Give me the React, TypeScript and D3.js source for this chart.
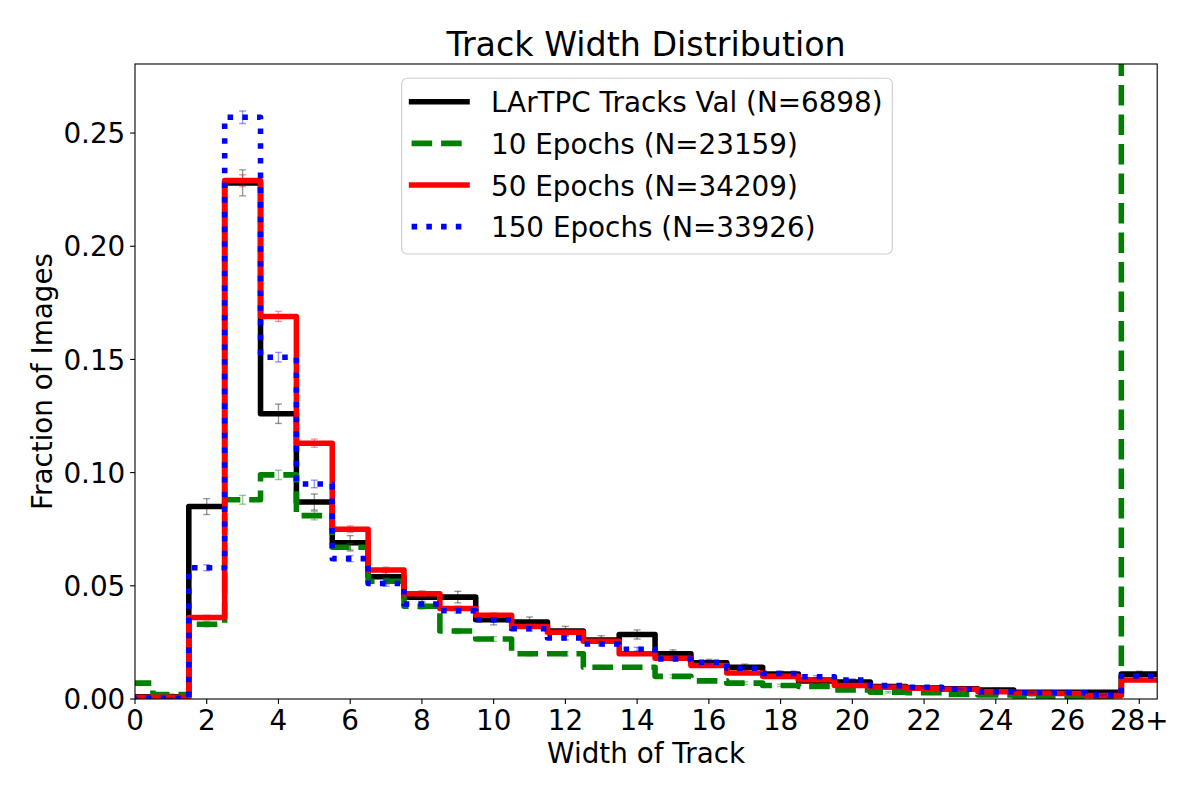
import * as d3 from "d3";

// histogram bins: widths 0..27, last bin is overflow "28+"
const binCenters = [0, 1, 2, 3, 4, 5, 6, 7, 8, 9, 10, 11, 12, 13, 14, 15, 16, 17, 18, 19, 20, 21, 22, 23, 24, 25, 26, 27, 28];
// right edge of the overflow bin lies past the visible axis range
const overflowEdge = 29;

const valFractions = [
  0.001, 0.001, 0.085, 0.228, 0.126, 0.087, 0.069, 0.054, 0.045, 0.045,
  0.035, 0.034, 0.030, 0.026, 0.0285, 0.020, 0.016, 0.014, 0.011, 0.008,
  0.0075, 0.0055, 0.005, 0.0045, 0.004, 0.003, 0.003, 0.003, 0.011,
];
const epochs10Fractions = [
  0.007, 0.002, 0.033, 0.088, 0.099, 0.081, 0.067, 0.052, 0.041, 0.030,
  0.0265, 0.020, 0.020, 0.014, 0.014, 0.010, 0.008, 0.007, 0.006, 0.0055,
  0.004, 0.003, 0.0028, 0.002, 0.0018, 0.0013, 0.001, 0.0008, 0.352,
];
const epochs50Fractions = [
  0.0008, 0.0008, 0.036, 0.229, 0.169, 0.113, 0.075, 0.057, 0.0465, 0.040,
  0.037, 0.032, 0.0295, 0.0255, 0.020, 0.018, 0.0148, 0.0115, 0.010, 0.0085,
  0.006, 0.0052, 0.0048, 0.0043, 0.0032, 0.0025, 0.0024, 0.0015, 0.0084,
];
const epochs150Fractions = [
  0.0003, 0.0003, 0.058, 0.257, 0.151, 0.095, 0.062, 0.051, 0.042, 0.039,
  0.035, 0.031, 0.027, 0.0243, 0.022, 0.0177, 0.0162, 0.0136, 0.0113, 0.0098,
  0.0084, 0.0059, 0.0052, 0.0043, 0.0032, 0.0028, 0.0028, 0.0018, 0.0102,
];

const seriesNames = ["LArTPC Tracks Val", "10 Epochs", "50 Epochs", "150 Epochs"];
const seriesCounts = [6898, 23159, 34209, 33926];
const seriesColors = ["#000000", "#008000", "#ff0000", "#0000ff"];
const seriesDashes = [null, "20.6 8.9", null, "5.56 9.17"];

const xTickValues = [0, 2, 4, 6, 8, 10, 12, 14, 16, 18, 20, 22, 24, 26, 28];
const xTickLabels = ["0", "2", "4", "6", "8", "10", "12", "14", "16", "18", "20", "22", "24", "26", "28+"];
const yTickValues = [0, 0.05, 0.1, 0.15, 0.2, 0.25];

const FONT = "DejaVu Sans, sans-serif";
const LW = 5.56;

export default function App() {
  const left = 135;
  const right = 1157.2;
  const top = 64;
  const bottom = 699;

  const x = d3.scaleLinear().domain([0, 28.5]).range([left, right]);
  const y = d3.scaleLinear().domain([0, 0.2805]).range([bottom, top]);

  const stepLine = d3
    .line<[number, number]>()
    .x((d) => x(d[0]))
    .y((d) => y(d[1]))
    .curve(d3.curveStepAfter);

  const allSeries = [valFractions, epochs10Fractions, epochs50Fractions, epochs150Fractions];

  const stepPoints = (vals: number[]): [number, number][] => [
    [binCenters[0] - 0.5, 0],
    ...binCenters.map((b, i) => [b - 0.5, vals[i]] as [number, number]),
    [overflowEdge, vals[vals.length - 1]],
    [overflowEdge, 0],
  ];

  const legendRowY = (i: number) => 101.7 + i * 41.65;

  return (
    <svg
      width={1200}
      height={800}
      style={{ position: "absolute", left: 0, top: 0, background: "white" }}
      fontFamily={FONT}
    >
      <defs>
        <clipPath id="plot-clip">
          <rect x={left} y={top} width={right - left} height={bottom - top} />
        </clipPath>
      </defs>
      <rect x={0} y={0} width={1200} height={800} fill="white" />

      <g clipPath="url(#plot-clip)">
        {allSeries.map((vals, s) => (
          <g key={s}>
            <path
              d={stepLine(stepPoints(vals)) ?? ""}
              fill="none"
              stroke={seriesColors[s]}
              strokeWidth={LW}
              strokeLinejoin="round"
              strokeLinecap={seriesDashes[s] ? "butt" : "square"}
              strokeDasharray={seriesDashes[s] ?? undefined}
            />
            <g stroke={seriesColors[s]} strokeOpacity={0.4} strokeWidth={1.4}>
              {binCenters.map((b, i) => {
                const err = Math.sqrt(vals[i] / seriesCounts[s]);
                const cx = x(b);
                const y0 = y(vals[i] - err);
                const y1 = y(vals[i] + err);
                return (
                  <g key={b}>
                    <line x1={cx} x2={cx} y1={y0} y2={y1} />
                    <line x1={cx - 3.5} x2={cx + 3.5} y1={y0} y2={y0} />
                    <line x1={cx - 3.5} x2={cx + 3.5} y1={y1} y2={y1} />
                  </g>
                );
              })}
            </g>
          </g>
        ))}
      </g>

      {/* spines */}
      <rect
        x={left}
        y={top}
        width={right - left}
        height={bottom - top}
        fill="none"
        stroke="black"
        strokeWidth={1.1}
      />

      {/* x axis */}
      {xTickValues.map((t, i) => (
        <g key={t}>
          <line x1={x(t)} x2={x(t)} y1={bottom} y2={bottom + 4.9} stroke="black" strokeWidth={1.1} />
          <text x={x(t)} y={730} textAnchor="middle" fontSize={27.8}>
            {xTickLabels[i]}
          </text>
        </g>
      ))}
      <text x={(left + right) / 2} y={763.3} textAnchor="middle" fontSize={27.8}>
        Width of Track
      </text>

      {/* y axis */}
      {yTickValues.map((t) => (
        <g key={t}>
          <line x1={left - 4.9} x2={left} y1={y(t)} y2={y(t)} stroke="black" strokeWidth={1.1} />
          <text x={125.3} y={y(t) + 10.2} textAnchor="end" fontSize={27.8}>
            {d3.format(".2f")(t)}
          </text>
        </g>
      ))}
      <text
        transform={`translate(51.8, ${(top + bottom) / 2}) rotate(-90)`}
        textAnchor="middle"
        fontSize={27.8}
      >
        Fraction of Images
      </text>

      {/* title */}
      <text x={(left + right) / 2} y={56} textAnchor="middle" fontSize={33.3}>
        Track Width Distribution
      </text>

      {/* legend */}
      <rect
        x={401.7}
        y={78.3}
        width={490.6}
        height={175.7}
        rx={5.5}
        fill="white"
        fillOpacity={0.8}
        stroke="#cccccc"
        strokeWidth={1.1}
      />
      {seriesNames.map((name, i) => (
        <g key={name}>
          <line
            x1={411.6}
            x2={467}
            y1={legendRowY(i)}
            y2={legendRowY(i)}
            stroke={seriesColors[i]}
            strokeWidth={LW}
            strokeLinecap={seriesDashes[i] ? "butt" : "square"}
            strokeDasharray={seriesDashes[i] ?? undefined}
          />
          <text x={491} y={legendRowY(i) + 10.5} fontSize={27.8}>
            {`${name} (N=${seriesCounts[i]})`}
          </text>
        </g>
      ))}
    </svg>
  );
}
